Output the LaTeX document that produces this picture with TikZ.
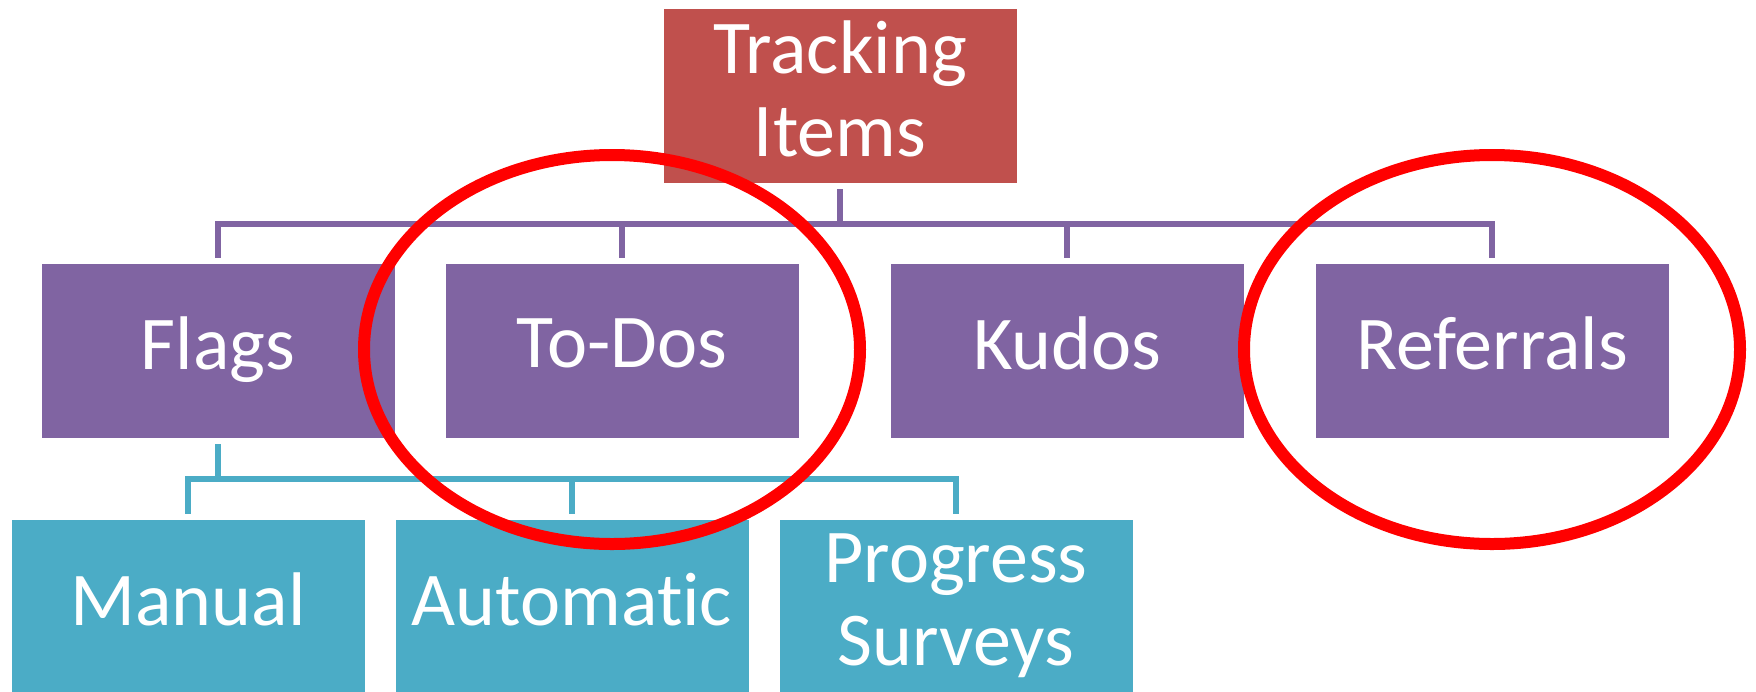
\documentclass[tikz,border=0pt]{standalone}
\usepackage{fontspec}
\setmainfont[RawFeature=-liga]{Carlito}
\definecolor{rootred}{HTML}{C0504D}
\definecolor{midpurple}{HTML}{8064A2}
\definecolor{leafteal}{HTML}{4BACC6}
% invisible strut giving every text line the same height and depth
\newcommand{\lnstrut}{\rule[-0.2em]{0pt}{0.72em}}
\begin{document}
\begin{tikzpicture}[x=1pt,y=-1pt,
  box/.style={rectangle, inner sep=0pt, minimum width=353pt, minimum height=174pt,
    text=white, align=center, font=\fontsize{76}{83}\selectfont},
  rootbox/.style={box, fill=rootred},
  midbox/.style={box, fill=midpurple},
  leafbox/.style={box, fill=leafteal},
  conn/.style={line width=5.5pt, shorten <=6pt, shorten >=6pt},
  pconn/.style={conn, draw=midpurple},
  tconn/.style={conn, draw=leafteal},
  ring/.style={draw=red, line width=12pt}]
\useasboundingbox (0,0) rectangle (1756,691);

% boxes
\node[rootbox] (root) at (840,96) {\lnstrut Tracking\\\lnstrut Items};
\node[midbox] (flags) at (218,351) {\lnstrut Flags};
\node[midbox] (todos) at (622,351) {\lnstrut To-Dos};
\node[midbox] (kudos) at (1067,351) {\lnstrut Kudos};
\node[midbox] (referrals) at (1492,351) {\lnstrut Referrals};
\node[leafbox] (manual) at (188,607) {\lnstrut Manual};
\node[leafbox] (automatic) at (572,607) {\lnstrut Automatic};
\node[leafbox] (progress) at (956,607) {\lnstrut Progress\\\lnstrut Surveys};

% elbow connectors
\foreach \c in {flags,todos,kudos,referrals}
  \draw[pconn] (root.south) -- ++(0,41) -| (\c.north);
\foreach \c in {manual,automatic,progress}
  \draw[tconn] (flags.south) -- ++(0,41) -| (\c.north);

% highlight rings
\draw[ring] (todos.center) ++(-10,-1.5) ellipse [x radius=248pt, y radius=194.5pt];
\draw[ring] (referrals.center) ++(0,-1.5) ellipse [x radius=248pt, y radius=194.5pt];
\end{tikzpicture}
\end{document}
